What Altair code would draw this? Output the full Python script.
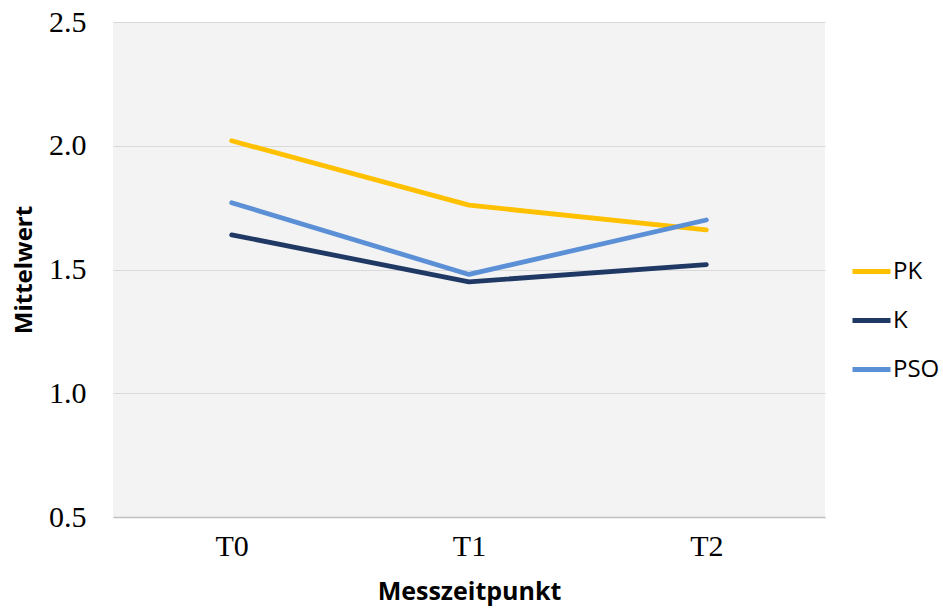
import altair as alt
import pandas as pd

# Messzeitpunkte und Mittelwerte je Gruppe
zeitpunkte = ["T0", "T1", "T2"]
gruppen = ["PK", "K", "PSO"]
pk_werte = [2.02, 1.76, 1.66]
k_werte = [1.64, 1.45, 1.52]
pso_werte = [1.77, 1.48, 1.70]
farben = ["#FFC000", "#1F3864", "#5B8FD6"]
y_ticks = [0.5, 1.0, 1.5, 2.0, 2.5]

rows = []
for gruppe, werte in zip(gruppen, [pk_werte, k_werte, pso_werte]):
    for zp, w in zip(zeitpunkte, werte):
        rows.append({"Messzeitpunkt": zp, "Mittelwert": w, "Gruppe": gruppe})
df = pd.DataFrame(rows)

chart = (
    alt.Chart(df)
    .mark_line(strokeWidth=4.8, strokeCap="round", strokeJoin="round")
    .encode(
        x=alt.X(
            "Messzeitpunkt:N",
            sort=zeitpunkte,
            scale=alt.Scale(type="point", padding=0.5),
            axis=alt.Axis(
                title="Messzeitpunkt",
                labelAngle=0,
                labelFont="Liberation Serif",
                labelFontSize=30,
                labelColor="#000000",
                labelPadding=14,
                ticks=False,
                domainColor="#BFBFBF",
                domainWidth=1.5,
                titleFont="Open Sans",
                titleFontSize=25,
                titleFontWeight="bold",
                titleColor="#000000",
                titlePadding=18,
            ),
        ),
        y=alt.Y(
            "Mittelwert:Q",
            scale=alt.Scale(domain=[0.5, 2.5], nice=False, zero=False),
            axis=alt.Axis(
                title="Mittelwert",
                values=y_ticks,
                format=".1f",
                labelFont="Liberation Serif",
                labelFontSize=30,
                labelColor="#000000",
                labelPadding=27,
                ticks=False,
                domain=False,
                gridColor="#D9D9D9",
                gridWidth=1,
                titleFont="Open Sans",
                titleFontSize=24,
                titleFontWeight="bold",
                titleColor="#000000",
                titlePadding=12,
            ),
        ),
        color=alt.Color(
            "Gruppe:N",
            sort=gruppen,
            scale=alt.Scale(domain=gruppen, range=farben),
            legend=alt.Legend(
                title=None,
                orient="none",
                legendX=737,
                legendY=228,
                symbolType="stroke",
                symbolStrokeWidth=4.8,
                symbolSize=1444,
                labelFont="Open Sans",
                labelFontSize=24,
                labelColor="#000000",
                labelOffset=0,
                rowPadding=15,
            ),
        ),
    )
    .properties(
        width=712,
        height=495,
        autosize=alt.AutoSizeParams(type="none"),
        padding={"left": 113, "top": 22, "right": 118, "bottom": 96},
    )
    .configure(background="#FFFFFF")
    .configure_view(fill="#F3F3F3", stroke=None)
)

chart.save("out.html", embed_options={"renderer": "svg", "actions": False})
